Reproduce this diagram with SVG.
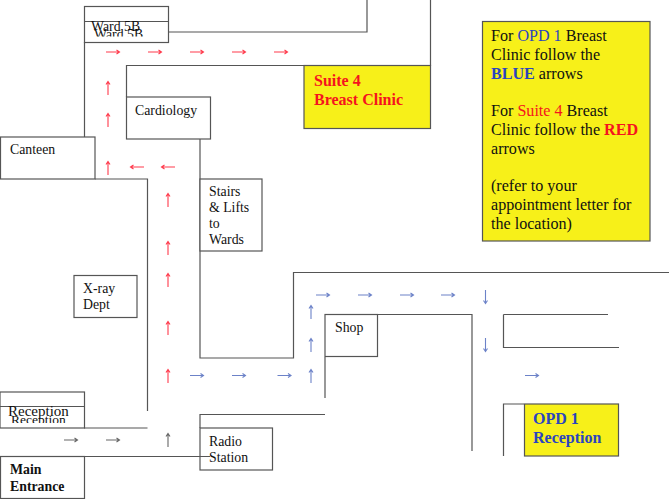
<svg xmlns="http://www.w3.org/2000/svg" width="669" height="499" viewBox="0 0 669 499">
<style>
text{font-family:"Liberation Serif","Times New Roman",serif;font-size:13.8px;fill:#111}
.b{font-weight:bold}
.lg{font-size:16.1px}
.h{font-size:16px;font-weight:bold}
.box{fill:#fff;stroke:#555;stroke-width:1.2}
.yel{fill:#f7f019;stroke:#555;stroke-width:1.2}
.wall{fill:none;stroke:#555;stroke-width:1.2}
.r{stroke:#ff3a4c}.bl{stroke:#6c82c8}.g{stroke:#666}
.a{fill:none;stroke-width:1.1}
.rt{fill:#f5141e}.bt{fill:#2a44c0}
</style>
<defs>
<path id="ar" d="M0 0H13.500M10.500 -2L13.500 0L10.500 2"/>
<path id="au" d="M0 0V-13.500M-2 -10.500L0 -13.500L2 -10.500"/>
<path id="ad" d="M0 0V13.500M-2 10.500L0 13.500L2 10.500"/>
<path id="al" d="M0 0H-13.500M-10.500 -2L-13.500 0L-10.500 2"/>
<clipPath id="cw"><rect x="85" y="22" width="83" height="14.500"/></clipPath>
<clipPath id="cr"><rect x="1" y="407" width="83" height="16"/></clipPath>
</defs>
<g id="walls">
<path class="wall" d="M168 32H367V0M430.500 0V65.500H126.500V97M84.500 42V137M200 139V358H293.500V272.500H669M95 179H147.500V411M84 428H147.500M200 428V414.500H325M325 357V398M377 314.500H472V451M503.500 314.500V347.500H619M503.500 314.500H608M524 404H503.500V456"/>
</g>
<g id="ward-5b">
<rect class="box" x="84.500" y="6.500" width="84" height="36"/>
<path class="wall" d="M84.500 21.500H168.500"/>
<text x="91" y="31">Ward 5B</text>
<text x="94" y="39" clip-path="url(#cw)">Ward 5B</text>
</g>
<g id="cardiology"><rect class="box" x="126.500" y="97" width="84" height="42"/><text x="135" y="115">Cardiology</text></g>
<g id="canteen"><rect class="box" x="0.500" y="137" width="94.500" height="42"/><text x="10" y="154">Canteen</text></g>
<g id="stairs"><rect class="box" x="200" y="179" width="62" height="72"/><text x="209" y="196">Stairs</text><text x="209" y="212">&amp; Lifts</text><text x="209" y="228">to</text><text x="209" y="244">Wards</text></g>
<g id="xray"><rect class="box" x="74" y="275.500" width="63" height="42"/><text x="83" y="293">X-ray</text><text x="83" y="309">Dept</text></g>
<g id="shop"><rect class="box" x="325" y="314.500" width="52.500" height="42"/><text x="335" y="332">Shop</text></g>
<g id="reception">
<rect class="box" x="0" y="392" width="84.500" height="36"/>
<path class="wall" d="M0 406.500H84.500"/>
<text x="8" y="416" style="font-size:15px">Reception</text>
<text x="11" y="424" clip-path="url(#cr)" style="font-size:13.500px">Reception</text>
</g>
<g id="main-entrance"><rect class="box" x="0.500" y="456.500" width="84" height="42"/><text class="b" x="10" y="474">Main</text><text class="b" x="10" y="491">Entrance</text></g>
<g id="radio-station"><rect class="box" x="200" y="428" width="72.500" height="42"/><text x="209" y="446">Radio</text><text x="209" y="462">Station</text></g>
<g id="line-over"><path class="wall" d="M84 456.500H210"/></g>
<g id="suite-4"><rect class="yel" x="304" y="65.500" width="126.500" height="63"/><text class="h rt" x="314" y="86">Suite 4</text><text class="h rt" x="314" y="105">Breast Clinic</text></g>
<g id="opd-1"><rect class="yel" x="524.500" y="404" width="94" height="52"/><text class="h bt" x="533" y="424">OPD 1</text><text class="h bt" x="533" y="443">Reception</text></g>
<g id="legend">
<rect class="yel" x="482.500" y="21.500" width="167.500" height="219.500"/>
<text class="lg" x="491" y="41">For <tspan class="bt">OPD 1</tspan> Breast</text>
<text class="lg" x="491" y="60">Clinic follow the</text>
<text class="lg" x="491" y="79"><tspan class="b bt">BLUE</tspan> arrows</text>
<text class="lg" x="491" y="116">For <tspan class="rt">Suite 4</tspan> Breast</text>
<text class="lg" x="491" y="135">Clinic follow the <tspan class="b rt">RED</tspan></text>
<text class="lg" x="491" y="154">arrows</text>
<text class="lg" x="491" y="191">(refer to your</text>
<text class="lg" x="491" y="210">appointment letter for</text>
<text class="lg" x="491" y="229">the location)</text>
</g>
<g id="connectors" class="a">
<g class="r">
<use href="#ar" x="106" y="52"/><use href="#ar" x="148" y="52"/><use href="#ar" x="190" y="52"/><use href="#ar" x="232" y="52"/><use href="#ar" x="274" y="52"/>
<use href="#au" x="108" y="95"/><use href="#au" x="108" y="127"/><use href="#au" x="108" y="175"/>
<use href="#al" x="144" y="167"/><use href="#al" x="175" y="167"/>
<use href="#au" x="168" y="207"/><use href="#au" x="168" y="255"/><use href="#au" x="168" y="287"/><use href="#au" x="168" y="335"/><use href="#au" x="168" y="383"/>
</g>
<g class="bl">
<use href="#ar" x="190" y="375.500"/><use href="#ar" x="232" y="375.500"/><use href="#ar" x="277.500" y="375.500"/>
<use href="#au" x="311" y="383"/><use href="#au" x="311" y="352"/><use href="#au" x="311" y="319"/>
<use href="#ar" x="316" y="295"/><use href="#ar" x="358" y="295"/><use href="#ar" x="400" y="295"/><use href="#ar" x="441" y="295"/>
<use href="#ad" x="485.500" y="290"/><use href="#ad" x="485.500" y="338"/>
<use href="#ar" x="525" y="375.500"/>
</g>
<g class="g">
<use href="#ar" x="64" y="440"/><use href="#ar" x="106" y="440"/>
<use href="#au" x="168" y="447"/>
</g>
</g>
</svg>
